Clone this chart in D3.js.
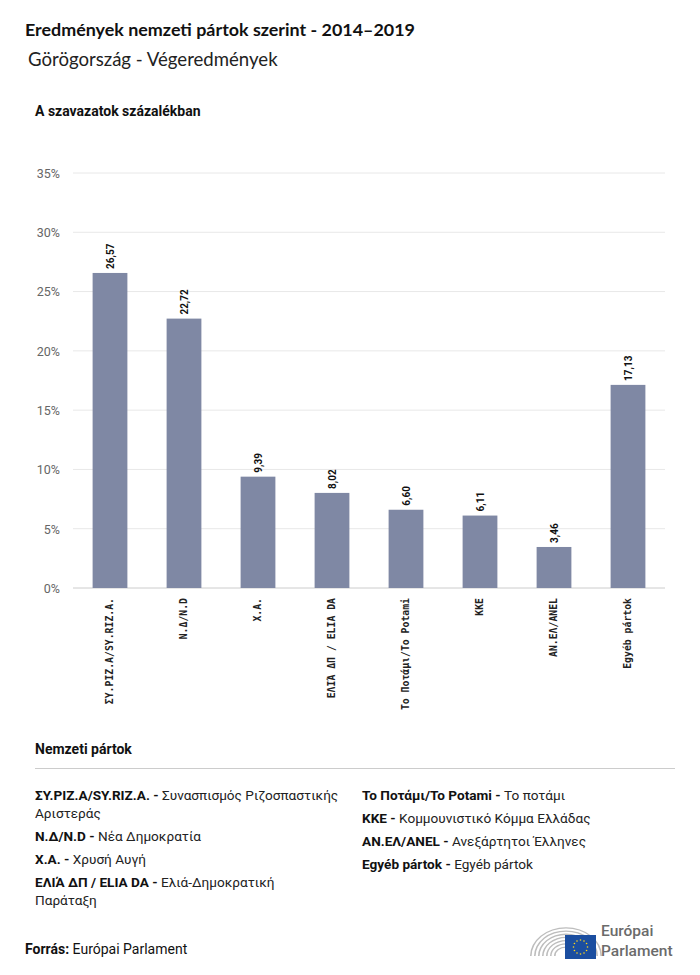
<!DOCTYPE html>
<html><head><meta charset="utf-8">
<script src="https://cdn.jsdelivr.net/npm/d3@7"></script>
<style>
body{margin:0;background:#fff;}
svg{display:block;}
</style></head>
<body>
<svg id="chart" width="700" height="975"></svg>
<script>
const categories = ["ΣY.PIZ.A/SY.RIZ.A.", "N.Δ/N.D", "X.A.", "ΕΛΙΆ ΔΠ / ELIA DA", "To Ποτάμι/To Potami", "KKE", "AN.ΕΛ/ANEL", "Egyéb pártok"];
const values = [26.57, 22.72, 9.39, 8.02, 6.60, 6.11, 3.46, 17.13];
const yTicks = [0, 5, 10, 15, 20, 25, 30, 35];
const legendAbbr = ["ΣY.PIZ.A/SY.RIZ.A.", "N.Δ/N.D", "X.A.", "ΕΛΙΆ ΔΠ / ELIA DA", "To Ποτάμι/To Potami", "KKE", "AN.ΕΛ/ANEL", "Egyéb pártok"];
const legendFull = ["Συνασπισμός Ριζοσπαστικής\nΑριστεράς", "Νέα Δημοκρατία", "Χρυσή Αυγή", "Ελιά-Δημοκρατική\nΠαράταξη", "Το ποτάμι", "Κομμουνιστικό Κόμμα Ελλάδας", "Ανεξάρτητοι Έλληνες", "Egyéb pártok"];

const svg = d3.select("#chart");
const font = "Roboto, 'Noto Sans', sans-serif";

svg.append("text").attr("x", 25).attr("y", 36).attr("font-family", "Lato, Roboto, sans-serif")
  .attr("font-weight", 700).attr("font-size", 17.9).attr("fill", "#111")
  .text("Eredmények nemzeti pártok szerint - 2014–2019");
svg.append("text").attr("x", 28).attr("y", 66).attr("font-family", "Lato, Roboto, sans-serif")
  .attr("font-size", 18.6).attr("fill", "#222").text("Görögország - Végeredmények");
svg.append("text").attr("x", 35).attr("y", 116).attr("font-family", font)
  .attr("font-weight", 700).attr("font-size", 14).attr("fill", "#111").text("A szavazatok százalékban");

const x = d3.scaleBand().domain(categories).range([73, 665]).paddingInner(0.53).paddingOuter(0.265);
const y = d3.scaleLinear().domain([0, 35]).range([588, 173]);

// grid
svg.append("g").selectAll("line").data(yTicks).join("line")
  .attr("x1", 73).attr("x2", 665).attr("y1", d => y(d)).attr("y2", d => y(d))
  .attr("stroke", d => d === 0 ? "#ccc" : "#e8e8e8").attr("stroke-width", 1);

const yAxis = svg.append("g").attr("transform", "translate(60,0)")
  .call(d3.axisLeft(y).tickValues(yTicks).tickSize(0).tickFormat(d => d + "%"));
yAxis.select(".domain").remove();
yAxis.selectAll("text").attr("font-family", font).attr("font-size", 12.5).attr("fill", "#666").attr("dy", "0.35em").attr("x", 0);

// bars
svg.append("g").selectAll("rect").data(values).join("rect")
  .attr("x", (d, i) => x(categories[i])).attr("width", x.bandwidth())
  .attr("y", d => y(d)).attr("height", d => y(0) - y(d)).attr("fill", "#7f88a4");

// value labels
svg.append("g").selectAll("text").data(values).join("text")
  .attr("transform", (d, i) => `translate(${x(categories[i]) + x.bandwidth() / 2 + 3.5},${y(d) - 4}) rotate(-90)`)
  .attr("font-family", font).attr("font-weight", 700).attr("font-size", 10).attr("fill", "#111")
  .text(d => d.toFixed(2).replace(".", ","));

// category labels
const xAxis = svg.append("g").attr("transform", "translate(0,588)")
  .call(d3.axisBottom(x).tickSize(0));
xAxis.select(".domain").remove();
xAxis.selectAll("text")
  .attr("font-family", "'DejaVu Sans Mono', monospace").attr("font-weight", 700).attr("font-size", 9.8).attr("fill", "#222")
  .attr("transform", "rotate(-90)").attr("text-anchor", "end").attr("x", -10).attr("y", 0).attr("dy", "0.35em");

// legend
svg.append("text").attr("x", 35).attr("y", 754).attr("font-family", font)
  .attr("font-weight", 700).attr("font-size", 14).attr("fill", "#111").text("Nemzeti pártok");
svg.append("line").attr("x1", 35).attr("x2", 675).attr("y1", 768.5).attr("y2", 768.5).attr("stroke", "#ccc");

function legendColumn(idxs, x0) {
  let yy = 800;
  idxs.forEach(i => {
    const parts = legendFull[i].split("\n");
    const t = svg.append("text").attr("x", x0).attr("y", yy).attr("font-family", font).attr("font-size", 13.6).attr("fill", "#222");
    t.append("tspan").attr("font-weight", 700).attr("fill", "#111").text(legendAbbr[i] + " - ");
    parts.forEach((p, li) => {
      const ts = t.append("tspan").attr("font-weight", 400).text(p);
      if (li > 0) ts.attr("x", x0).attr("dy", 18);
    });
    yy += 23 + (parts.length - 1) * 18;
  });
}
legendColumn([0, 1, 2, 3], 35);
legendColumn([4, 5, 6, 7], 362);

// source
const src = svg.append("text").attr("x", 25).attr("y", 954).attr("font-family", font).attr("font-size", 14).attr("fill", "#111");
src.append("tspan").attr("font-weight", 700).text("Forrás:");
src.append("tspan").text(" Európai Parlament");

// logo
const logo = svg.append("g").attr("transform", "translate(530,918)");
const cx = 36, cy = 38;
[36, 32, 28, 24, 20, 16, 12].forEach(r => {
  logo.append("path").attr("d", d3.arc()({innerRadius: r - 1.6, outerRadius: r, startAngle: -Math.PI / 2, endAngle: Math.PI / 2}))
    .attr("transform", `translate(${cx},${cy}) scale(1,0.8)`).attr("fill", "#bdbdbd");
});
logo.append("rect").attr("x", 35).attr("y", 17).attr("width", 31).attr("height", 24).attr("fill", "#1b4ea0");
d3.range(12).forEach(k => {
  const a = k * Math.PI / 6;
  logo.append("circle").attr("cx", 50.5 + 7 * Math.cos(a)).attr("cy", 29 + 7 * Math.sin(a)).attr("r", 0.8).attr("fill", "#ffd617");
});
logo.append("text").attr("x", 71).attr("y", 18).attr("font-family", font).attr("font-weight", 500).attr("font-size", 15.5).attr("fill", "#6b6b6b").text("Európai");
logo.append("text").attr("x", 71).attr("y", 37.5).attr("font-family", font).attr("font-weight", 500).attr("font-size", 15.5).attr("fill", "#6b6b6b").text("Parlament");
</script>
</body></html>
